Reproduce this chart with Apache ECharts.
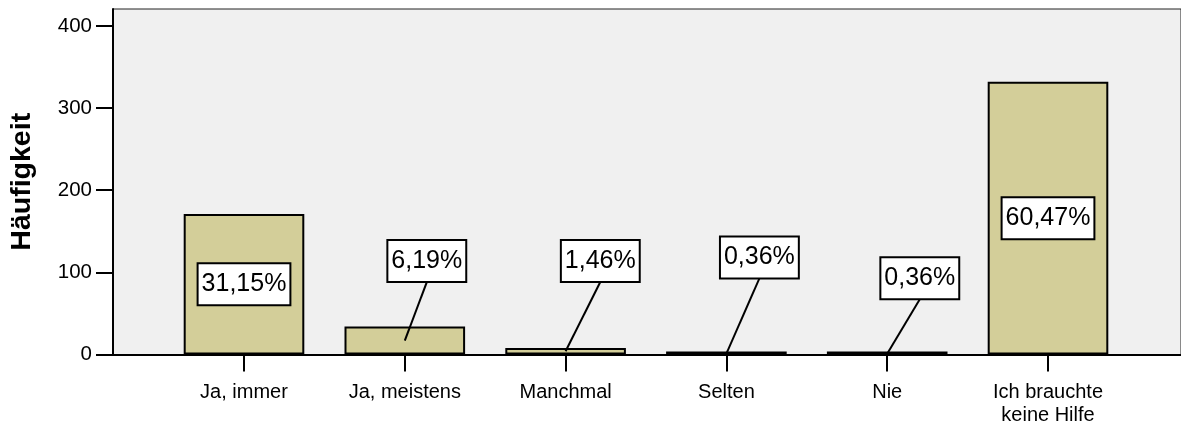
<!DOCTYPE html>
<html>
<head>
<meta charset="utf-8">
<script src="https://cdn.jsdelivr.net/npm/echarts@6/dist/echarts.min.js"></script>
<style>
html,body{margin:0;padding:0;background:#fff;}
#chart{width:1181px;height:429px;}
</style>
</head>
<body>
<div id="chart"></div>
<script>
// ---- data ----
const categories = ['Ja, immer', 'Ja, meistens', 'Manchmal', 'Selten', 'Nie', 'Ich brauchte\nkeine Hilfe'];
const counts = [171, 34, 8, 2, 2, 332];
const pctLabels = ['31,15%', '6,19%', '1,46%', '0,36%', '0,36%', '60,47%'];
const yTicks = [0, 100, 200, 300, 400];
const yAxisName = 'Häufigkeit';

// ---- layout / style (not data) ----
const FONT = '"Liberation Sans", Arial, Helvetica, sans-serif';
const Y_MAX = 420.7;
// label placement: null = centred inside bar; otherwise callout offset from bar top centre
const calloutOffsets = [null, [22, 65.5], [34.7, 87], [33, 95.4], [32.6, 74.5], null];

const chart = echarts.init(document.getElementById('chart'), null, {renderer: 'canvas'});

const option = {
  animation: false,
  backgroundColor: '#ffffff',
  grid: [
    {left: 110, top: 9, right: -5, bottom: 74.5, show: true,
     backgroundColor: '#f0f0f0', borderColor: '#222', borderWidth: 1},
    {left: 163.6, top: 9, right: 52.6, bottom: 74.5}
  ],
  xAxis: [
    {gridIndex: 0, type: 'value', min: 0, max: 1,
     axisLine: {show: true, lineStyle: {color: '#000', width: 2}},
     axisTick: {show: false}, axisLabel: {show: false}, splitLine: {show: false}},
    {gridIndex: 1, type: 'category', data: categories,
     axisLine: {show: true, lineStyle: {color: '#000', width: 2}},
     axisTick: {show: true, alignWithLabel: true, length: 17, lineStyle: {color: '#000', width: 2}},
     axisLabel: {interval: 0, color: '#000', fontSize: 20, fontFamily: FONT, margin: 26, lineHeight: 23},
     splitLine: {show: false}}
  ],
  yAxis: [
    {gridIndex: 0, type: 'value', min: 0, max: Y_MAX,
     name: yAxisName, nameLocation: 'middle', nameGap: 76,
     nameTextStyle: {fontSize: 28.5, fontWeight: 'bold', color: '#000', fontFamily: FONT},
     axisLine: {show: true, lineStyle: {color: '#000', width: 2}},
     axisTick: {show: true, length: 17, customValues: yTicks, lineStyle: {color: '#000', width: 2}},
     axisLabel: {customValues: yTicks, color: '#000', fontSize: 20.5, fontFamily: FONT, margin: 21},
     splitLine: {show: false}},
    {gridIndex: 1, type: 'value', min: 0, max: Y_MAX, show: false, splitLine: {show: false}}
  ],
  series: [
    {type: 'bar', xAxisIndex: 1, yAxisIndex: 1, data: counts, barWidth: '75%', barMinHeight: 3,
     itemStyle: {color: '#d3ce99', borderColor: '#000', borderWidth: 2},
     silent: true},
    {type: 'custom', xAxisIndex: 1, yAxisIndex: 1, clip: false, silent: true, z: 10,
     data: counts.map((v, i) => [i, v]),
     renderItem: function (params, api) {
       const idx = api.value(0);
       const val = api.value(1);
       const top = api.coord([idx, val]);
       const base = api.coord([idx, 0]);
       const midY = (top[1] + base[1]) / 2;
       const off = calloutOffsets[idx];
       const halfH = 21;
       let cx, cy;
       const children = [];
       if (!off) {
         cx = top[0]; cy = midY;
       } else {
         cx = top[0] + off[0]; cy = top[1] - off[1];
         children.push({type: 'line',
           shape: {x1: top[0], y1: midY, x2: cx, y2: cy + halfH},
           style: {stroke: '#000', lineWidth: 2}});
       }
       children.push({type: 'text',
         style: {text: pctLabels[idx], x: cx, y: cy, align: 'center', verticalAlign: 'middle',
           fontSize: 25, fontFamily: FONT, fill: '#000', lineHeight: 25,
           backgroundColor: '#fff', borderColor: '#000', borderWidth: 2, padding: [8, 3, 7, 3]}});
       return {type: 'group', children: children};
     }}
  ]
};
chart.setOption(option);
</script>
</body>
</html>
